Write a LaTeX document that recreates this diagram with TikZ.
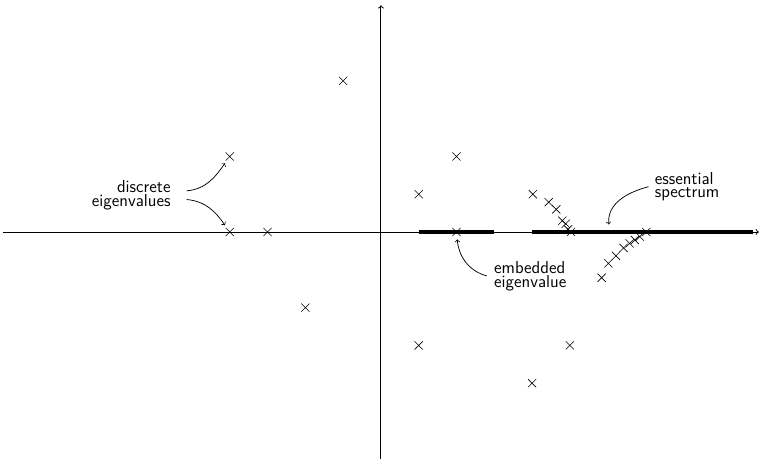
\documentclass[tikz,border=0pt]{standalone}
\usetikzlibrary{shapes.misc}
\begin{document}
\begin{tikzpicture}[
  crs/.style={draw, cross out, inner sep=0pt, minimum size=0.2cm, line width=0.45pt},
  axis/.style={->, line width=0.7pt},
  ess/.style={line width=2.8pt},
  lbl/.style={font=\sffamily\fontsize{13}{10}\selectfont, align=#1, inner sep=0pt},
  pointer/.style={->, line width=0.55pt, shorten >=2.5pt}
]
\useasboundingbox (-10.08,-6.08) rectangle (10.19,6.14);
% axes
\coordinate (xl) at (-10,0);
\coordinate (xr) at (10,0);
\coordinate (yb) at (0,-6);
\coordinate (yt) at (0,6);
\coordinate (e1a) at (1,0);
\coordinate (e1b) at (3,0);
\coordinate (e2a) at (4,0);
\coordinate (e2b) at (9.85,0);
\draw[ess] (e1a) -- (e1b);
\draw[ess] (e2a) -- (e2b);
\draw[axis] (xl) -- (xr);
\draw[axis] (yb) -- (yt);
% isolated eigenvalues
\node[crs] (a1) at (-1,4) {};
\node[crs] (a2) at (-4,2) {};
\node[crs] (a3) at (-4,0) {};
\node[crs] (a4) at (-3,0) {};
\node[crs] (a5) at (-2,-2) {};
\node[crs] (a6) at (1,1) {};
\node[crs] (a7) at (2,2) {};
\node[crs] (a8) at (2,0) {};
\node[crs] (a9) at (1,-3) {};
\node[crs] (a10) at (5,-3) {};
\node[crs] (a11) at (4,-4) {};
% upper sequence
\node[crs] (u1) at (4.02,1.0) {};
\node[crs] (u2) at (4.44,0.79) {};
\node[crs] (u3) at (4.64,0.60) {};
\node[crs] (u4) at (4.80,0.30) {};
\node[crs] (u5) at (4.89,0.22) {};
\node[crs] (u6) at (4.95,0.07) {};
\node[crs] (u7) at (5.03,0) {};
% lower sequence
\node[crs] (l1) at (5.84,-1.21) {};
\node[crs] (l2) at (6.02,-0.83) {};
\node[crs] (l3) at (6.22,-0.63) {};
\node[crs] (l4) at (6.42,-0.42) {};
\node[crs] (l5) at (6.58,-0.30) {};
\node[crs] (l6) at (6.72,-0.21) {};
\node[crs] (l7) at (6.85,-0.12) {};
\node[crs] (l8) at (7.02,0) {};
% labels
\node[lbl=right, anchor=east] (disc) at (-5.56,0.97) {discrete\\eigenvalues};
\node[lbl=left, anchor=west] (essl) at (7.24,1.2) {essential\\spectrum};
\node[lbl=left, anchor=west] (emb) at (2.99,-1.17) {embedded\\eigenvalue};
\coordinate (d1) at (-5.14,1.09);
\coordinate (d2) at (-5.14,0.86);
\coordinate (s1) at (7.08,1.2);
\coordinate (s2) at (6.03,0.2);
\coordinate (m1) at (2.8,-1.16);
% pointers
\draw[pointer] (d1) to[out=5, in=235] (a2);
\draw[pointer] (d2) to[out=-5, in=125] (a3);
\draw[pointer, shorten >=0pt] (s1) to[out=195, in=95] (s2);
\draw[pointer] (m1) to[out=165, in=-85] (a8);
\end{tikzpicture}
\end{document}
